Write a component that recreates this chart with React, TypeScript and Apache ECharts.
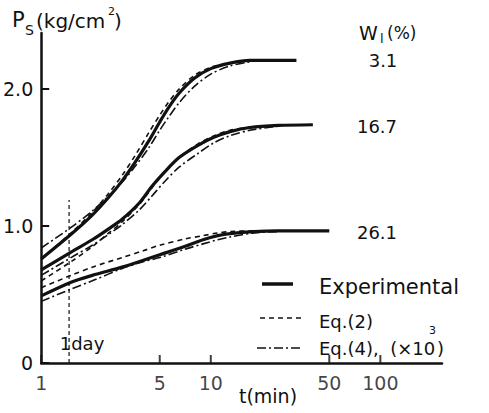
import React, { useEffect, useRef } from "react";
import * as echarts from "echarts";

// ---- data (t in min, Ps in kg/cm2) ----
const xTicks = [1, 5, 10, 50, 100];
const yTicks = [0, 1, 2];

// w = 3.1 %
const t31 = [1, 1.5, 2, 2.5, 3, 3.6, 4.3, 5, 5.6, 6.5, 8, 10, 13, 17, 32];
const exp31 = [0.76, 0.94, 1.08, 1.21, 1.33, 1.47, 1.62, 1.76, 1.86, 1.97, 2.08, 2.15, 2.19, 2.21, 2.21];
const eq2_31 = [0.76, 0.95, 1.1, 1.24, 1.37, 1.52, 1.68, 1.81, 1.9, 2.0, 2.1, 2.16, 2.19, 2.21, null];
const eq4_31 = [0.84, 0.99, 1.11, 1.22, 1.32, 1.44, 1.57, 1.7, 1.79, 1.9, 2.02, 2.11, 2.17, 2.2, null];

// w = 16.7 %
const t167 = [1, 1.5, 2, 2.5, 3, 3.8, 4.5, 5.3, 6.5, 8.4, 10.5, 13, 17, 25, 40];
const exp167 = [0.68, 0.81, 0.9, 0.98, 1.05, 1.17, 1.29, 1.39, 1.5, 1.59, 1.65, 1.69, 1.72, 1.735, 1.74];
const eq2_167 = [0.6, 0.74, 0.85, 0.95, 1.03, 1.16, 1.28, 1.39, 1.5, 1.6, 1.66, 1.7, 1.72, 1.735, null];
const eq4_167 = [0.64, 0.77, 0.86, 0.94, 1.01, 1.12, 1.22, 1.32, 1.43, 1.53, 1.61, 1.66, 1.7, 1.73, null];

// w = 26.1 %
const t261 = [1, 1.5, 2, 3, 4, 5, 7, 9, 11, 13, 18, 25, 50];
const exp261 = [0.49, 0.59, 0.64, 0.7, 0.75, 0.79, 0.85, 0.9, 0.93, 0.945, 0.96, 0.965, 0.965];
const eq2_261 = [0.55, 0.64, 0.7, 0.77, 0.82, 0.86, 0.905, 0.93, 0.95, 0.96, 0.965, 0.965, null];
const eq4_261 = [0.45, 0.54, 0.6, 0.69, 0.74, 0.77, 0.83, 0.87, 0.9, 0.92, 0.95, 0.96, null];

const oneDayT = 1.46;
const oneDayTop = 1.19;

const INK = "#111";
const FONT = "DejaVu Sans";

const pair = (ts: number[], vs: (number | null)[]) =>
  ts.map((t, i) => [t, vs[i]]);

const solid = { type: "solid" as const, width: 3.2, color: INK };
const dashed = { type: [5, 4], width: 1.6, color: INK };
const dashDot = { type: [9, 3, 2, 3], width: 1.6, color: INK };

function mk(name: string, data: any[], lineStyle: any) {
  return {
    name,
    type: "line",
    data,
    smooth: 0.3,
    showSymbol: false,
    symbol: "none",
    lineStyle,
    z: lineStyle.width > 2 ? 3 : 2,
  };
}

export default function App() {
  const ref = useRef<HTMLDivElement>(null);
  useEffect(() => {
    if (!ref.current) return;
    const chart = echarts.init(ref.current, undefined, { renderer: "svg" });
    const txt = (
      text: string,
      x: number,
      y: number,
      fontSize: number,
      align: string = "left"
    ) => ({
      type: "text",
      x,
      y,
      silent: true,
      style: {
        text,
        fontSize,
        fontFamily: FONT,
        fill: INK,
        align,
        verticalAlign: "middle",
      },
    });
    chart.setOption({
      animation: false,
      backgroundColor: "#fff",
      grid: { left: 40, right: 47, top: 33, bottom: 50 },
      xAxis: {
        type: "log",
        logBase: 10,
        min: 1,
        max: 231,
        axisLine: { lineStyle: { color: INK, width: 2.5 } },
        axisTick: { show: false },
        axisLabel: { show: false },
        splitLine: { show: false },
        minorTick: { show: false },
      },
      yAxis: {
        type: "value",
        min: 0,
        max: 2.41,
        interval: 1,
        axisLine: { show: true, lineStyle: { color: INK, width: 2.5 } },
        axisTick: {
          show: true,
          inside: true,
          length: 8,
          lineStyle: { color: INK, width: 2 },
        },
        axisLabel: {
          color: INK,
          fontFamily: FONT,
          fontSize: 19,
          margin: 8,
          showMaxLabel: false,
          formatter: (v: number) =>
            yTicks.includes(v) ? (v === 0 ? "0" : v.toFixed(1)) : "",
        },
        splitLine: { show: false },
      },
      series: [
        mk("exp31", pair(t31, exp31), solid),
        mk("eq2_31", pair(t31, eq2_31), dashed),
        mk("eq4_31", pair(t31, eq4_31), dashDot),
        mk("exp167", pair(t167, exp167), solid),
        mk("eq2_167", pair(t167, eq2_167), dashed),
        mk("eq4_167", pair(t167, eq4_167), dashDot),
        mk("exp261", pair(t261, exp261), solid),
        mk("eq2_261", pair(t261, eq2_261), dashed),
        mk("eq4_261", pair(t261, eq4_261), dashDot),
        {
          name: "oneday",
          type: "line",
          data: [
            [oneDayT, 0],
            [oneDayT, oneDayTop],
          ],
          showSymbol: false,
          symbol: "none",
          lineStyle: { type: [4, 3], width: 1.2, color: INK },
        },
        {
          name: "xticks",
          type: "scatter",
          clip: false,
          data: xTicks.map((t) => [t, 0]),
          symbol: "rect",
          symbolSize: [2, 8],
          symbolOffset: [0, -4],
          itemStyle: { color: INK },
          label: {
            show: true,
            position: "bottom",
            distance: 10,
            color: INK,
            fontFamily: FONT,
            fontSize: 19,
            formatter: (p: any) => String(p.value[0]),
          },
          z: 5,
        },
      ],
      graphic: [
        // y axis title
        txt("P", 12, 20, 21),
        txt("S", 25, 30, 14),
        txt("(kg/cm", 36, 21, 20),
        txt("2", 108, 11, 11),
        txt(")", 114, 21, 20),
        // x axis title
        txt("t(min)", 268, 396, 19, "center"),
        // 1day
        txt("1day", 82, 343, 18, "center"),
        // water content labels
        txt("W", 359, 33, 19),
        txt("l", 380, 38, 13),
        txt("(%)", 387, 33, 17),
        txt("3.1", 383, 60, 18, "center"),
        txt("16.7", 377, 126, 18, "center"),
        txt("26.1", 377, 232, 18, "center"),
        // legend
        {
          type: "line",
          shape: { x1: 262, y1: 284, x2: 293, y2: 284 },
          style: { stroke: INK, lineWidth: 3.5 },
        },
        txt("Experimental", 319, 287, 21),
        {
          type: "line",
          shape: { x1: 260, y1: 318, x2: 302, y2: 318 },
          style: { stroke: INK, lineWidth: 1.5, lineDash: [5, 4] },
        },
        txt("Eq.(2)", 319, 321, 18),
        {
          type: "line",
          shape: { x1: 257, y1: 348, x2: 302, y2: 348 },
          style: { stroke: INK, lineWidth: 1.5, lineDash: [9, 3, 2, 3] },
        },
        txt("Eq.(4),  (×10", 319, 348, 18),
        txt("3", 429, 330, 11),
        txt(")", 437, 348, 18),
      ],
    });
    return () => chart.dispose();
  }, []);
  return (
    <div
      ref={ref}
      style={{ position: "absolute", left: 0, top: 0, width: 489, height: 413 }}
    />
  );
}
